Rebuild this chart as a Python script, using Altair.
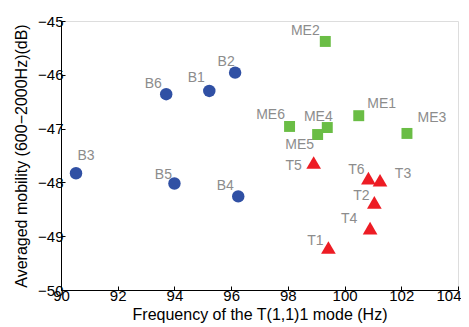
import altair as alt
import pandas as pd

names = ["B1", "B2", "B3", "B4", "B5", "B6",
         "ME1", "ME2", "ME3", "ME4", "ME5", "ME6",
         "T1", "T2", "T3", "T4", "T5", "T6"]
groups = ["B"] * 6 + ["ME"] * 6 + ["T"] * 6
freq = [95.23, 96.14, 90.53, 96.25, 94.00, 93.71,
        100.50, 99.32, 102.20, 99.39, 99.05, 98.06,
        99.43, 101.05, 101.25, 100.90, 98.91, 100.84]
mobility = [-46.30, -45.96, -47.83, -48.26, -48.02, -46.36,
            -46.76, -45.38, -47.09, -46.98, -47.11, -46.96,
            -49.21, -48.37, -47.96, -48.85, -47.63, -47.92]

x_ticks = [90, 92, 94, 96, 98, 100, 102, 104]
y_ticks = [-50, -49, -48, -47, -46, -45]

# label offsets in pixels (layout only)
label_dx = [-13, -9, 10, -13, -11, -13,
            23, -20, 25, -9, -18, -19,
            -13, -13, 23, -21, -20, -12]
label_dy = [-13, -11, -17, -10, -8, -10,
            -12, -10, -15, -11, 10, -11,
            -6, -6, -6, -9, 4, -8]

df = pd.DataFrame({"name": names, "group": groups, "freq": freq,
                   "mob": mobility, "dx": label_dx, "dy": label_dy})

FONT = "Liberation Sans"
INWARD = {"expr": "-4"}

x = alt.X("freq:Q", scale=alt.Scale(domain=[90, 104], nice=False, zero=False),
          axis=alt.Axis(title="Frequency of the T(1,1)1 mode (Hz)",
                        values=x_ticks, grid=False,
                        tickSize=INWARD, tickColor="black", domainColor="black",
                        labelColor="black", labelFontSize=15, labelFont=FONT,
                        labelFlush=False,
                        labelAlign={"condition": {"test": "datum.value == 104",
                                                  "value": "right"},
                                    "value": "center"},
                        labelOffset={"condition": {"test": "datum.value == 104",
                                                   "value": 3},
                                     "value": 0},
                        titleFont=FONT, titleFontSize=16, titleFontWeight="normal",
                        titleColor="black", labelPadding=2, titlePadding=3))
y = alt.Y("mob:Q", scale=alt.Scale(domain=[-50, -45], nice=False, zero=False),
          axis=alt.Axis(title="Averaged mobility (600−2000Hz)(dB)",
                        values=y_ticks, grid=False,
                        tickSize=INWARD, tickColor="black", domainColor="black",
                        labelColor="black", labelFontSize=15, labelFont=FONT,
                        labelFlush=False,
                        titleFont=FONT, titleFontSize=16, titleFontWeight="normal",
                        titleColor="black", labelPadding=2, titlePadding=8))

base = alt.Chart(df)


def group_layer(g, shape, color, size):
    return base.transform_filter(alt.datum.group == g).mark_point(
        filled=True, opacity=1, strokeWidth=0, shape=shape, color=color, size=size
    ).encode(x=x, y=y)


circles = group_layer("B", "circle", "#3050a4", 155)
squares = group_layer("ME", "square", "#6abd45", 120)
triangles = group_layer("T", "triangle-up", "#ed1c24", 215)

labels = base.mark_text(font=FONT, fontSize=14, color="#8c8c8c",
                        dx={"expr": "datum.dx"},
                        dy={"expr": "datum.dy"}).encode(
    x=alt.X("freq:Q"), y=alt.Y("mob:Q"),
    text="name:N",
)

chart = alt.layer(circles, squares, triangles, labels).properties(
    width=397, height=269,
    autosize=alt.AutoSizeParams(type="none"),
    padding={"left": 53, "top": 13, "right": 3, "bottom": 33},
).configure_view(stroke=None).configure(background="white")

chart.save("out.html", embed_options={"renderer": "svg", "actions": False})
